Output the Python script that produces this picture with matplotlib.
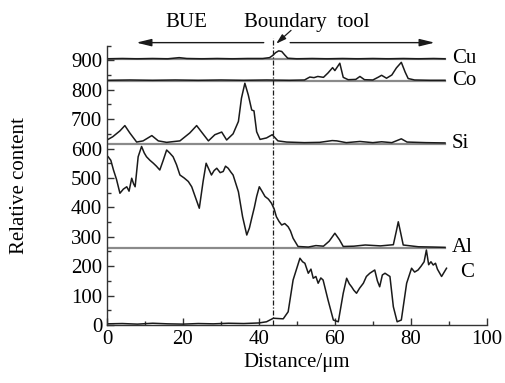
import matplotlib
matplotlib.use("Agg")
import matplotlib.pyplot as plt
from matplotlib.ticker import MultipleLocator

plt.rcParams['font.family'] = ['Liberation Serif', 'DejaVu Serif']

# ---- data ----
baselines = {"Cu": 905, "Co": 831, "Si": 617, "Al": 262}

cu_x = [0, 4, 8, 12, 16, 19, 21, 25, 29, 33, 37, 41, 42.8, 43.6, 44.4, 45.2, 46.0, 46.8, 47.6, 50, 54, 58, 62, 66, 70, 74, 78, 82, 86, 89]
cu_y = [905, 906, 905, 906, 905, 909, 906, 905, 906, 905, 906, 906, 909, 916, 926, 932, 930, 918, 907, 905, 906, 905, 906, 905, 906, 905, 906, 905, 906, 905]

co_x = [0, 6, 12, 18, 24, 30, 36, 42, 48, 52, 53.4, 54.5, 55.5, 57, 58.2, 59.4, 60.0, 61.3, 62.2, 63.5, 65.5, 66.6, 67.8, 70, 71.5, 72.3, 73.6, 75.0, 76.2, 77.5, 78.5, 79.3, 81, 85, 89]
co_y = [832, 833, 832, 833, 832, 833, 832, 833, 832, 833, 843, 841, 845, 842, 857, 875, 865, 890, 842, 834, 835, 845, 834, 833, 843, 849, 839, 850, 874, 893, 860, 838, 833, 832, 832]

si_x = [0, 1.5, 3.4, 4.7, 6.0, 7.8, 9.5, 11.8, 13.5, 15.7, 19.2, 21.8, 23.6, 24.9, 26.7, 28.4, 30.2, 31.5, 33.2, 34.6, 35.4, 36.3, 37.2, 38.1, 38.7, 39.4, 40.3, 42.0, 43.5, 45.0, 47.3, 52, 56, 59.3, 60.5, 63, 66.6, 70, 72.3, 75, 77.5, 79, 84, 89]
si_y = [629, 640, 660, 678, 653, 622, 626, 644, 626, 621, 626, 653, 678, 656, 626, 647, 656, 629, 650, 692, 771, 822, 782, 731, 728, 657, 631, 636, 647, 626, 622, 620, 621, 627, 626, 620, 624, 620, 623, 620, 633, 622, 620, 619]

al_x = [0.3, 1.0, 1.7, 2.5, 3.4, 4.3, 5.2, 5.8, 6.5, 7.0, 7.4, 8.2, 9.1, 9.8, 10.4, 11.3, 12.2, 13.0, 13.9, 14.8, 15.7, 16.5, 17.4, 18.3, 19.2, 20.3, 21.4, 22.3, 23.2, 24.3, 25.3, 26.1, 26.8, 27.5, 28.2, 28.9, 29.8, 30.6, 31.2, 31.9, 32.6, 33.2, 34.6, 35.7, 36.8, 37.5, 38.1, 38.8, 39.4, 40.1, 40.8, 41.6, 42.5, 43.3, 44.0, 44.6, 45.3, 46.0, 46.8, 47.7, 48.3, 49.0, 50.3, 53, 55, 57, 58.5, 60.0, 61.2, 62.2, 65, 68, 72, 75.4, 76.2, 76.7, 77.3, 78.0, 82, 86, 89]
al_y = [572, 560, 527, 495, 448, 462, 470, 455, 499, 480, 470, 572, 607, 585, 572, 560, 550, 540, 527, 560, 595, 585, 572, 545, 510, 500, 488, 470, 437, 397, 488, 550, 530, 510, 525, 533, 518, 522, 540, 533, 520, 510, 453, 368, 306, 330, 363, 400, 437, 470, 455, 437, 428, 414, 395, 368, 352, 340, 345, 334, 320, 295, 267, 265, 270, 268, 285, 312, 290, 267, 268, 272, 269, 273, 320, 351, 315, 272, 266, 265, 264]

c_x = [0, 4, 8, 12, 16, 20, 24, 28, 32, 36, 40, 42.0, 43.8, 46.4, 47.7, 49.0, 50.8, 51.5, 52.1, 53.0, 53.7, 54.3, 55.0, 55.6, 56.3, 56.9, 58.2, 59.6, 60.9, 62.2, 63.1, 63.8, 64.4, 65.0, 65.7, 66.5, 67.5, 68.3, 69.2, 70.5, 71.2, 71.8, 72.5, 73.2, 74.5, 75.4, 76.4, 77.5, 78.9, 80.2, 81.0, 81.9, 82.7, 83.5, 84.1, 84.7, 85.3, 85.9, 86.5, 87.0, 88.1, 89.4]
c_y = [4, 5, 3, 6, 4, 3, 5, 4, 6, 5, 7, 11, 23, 21, 45, 153, 227, 215, 210, 176, 190, 159, 165, 142, 160, 153, 85, 17, 11, 108, 159, 140, 130, 118, 108, 125, 142, 165, 176, 187, 150, 130, 170, 176, 165, 62, 11, 17, 142, 193, 180, 187, 200, 215, 255, 205, 215, 204, 210, 190, 165, 193]

element_labels = ["Cu", "Co", "Si", "Al", "C"]
label_y = [905, 831, 617, 262, 180]
y_ticks = [0, 100, 200, 300, 400, 500, 600, 700, 800, 900]

boundary_x = 43.8

# ---- figure ----
fig = plt.figure(figsize=(5.06, 3.83), dpi=100)
ax = fig.add_axes([0.2115, 0.1514, 0.7505, 0.7296])

for name, base in baselines.items():
    ax.plot([0, 89], [base, base], color="#8a8a8a", lw=1.6, zorder=1)

for xs, ys in [(cu_x, cu_y), (co_x, co_y), (si_x, si_y), (al_x, al_y), (c_x, c_y)]:
    ax.plot(xs, ys, color="#1a1a1a", lw=1.1, zorder=2)

ax.plot([boundary_x, boundary_x], [0, 975], color="#1a1a1a", lw=0.9,
        linestyle=(0, (4, 1.5, 1, 1.5)), clip_on=False, zorder=3)

for lab, yy in zip(element_labels, label_y):
    xx = 93 if lab == "C" else 90.8
    ax.text(xx, yy, lab, fontsize=15, va="center", ha="left")

ax.set_xlim(0, 100)
ax.set_ylim(0, 950)
ax.xaxis.set_major_locator(MultipleLocator(20))
ax.xaxis.set_minor_locator(MultipleLocator(10))
ax.set_yticks(y_ticks)
ax.set_yticklabels([str(v) for v in y_ticks])
ax.yaxis.set_minor_locator(MultipleLocator(50))
ax.tick_params(which="both", direction="in", labelsize=15, width=1.0, color="#333333")
ax.tick_params(which="major", length=5)
ax.tick_params(which="minor", length=3)
for s in ["top", "right"]:
    ax.spines[s].set_visible(False)
for s in ["left", "bottom"]:
    ax.spines[s].set_linewidth(1.0)
    ax.spines[s].set_color("#333333")

ax.set_xlabel("Distance/\u03bcm", fontsize=15, labelpad=3)
ax.set_ylabel("Relative content", fontsize=15, labelpad=30)

# top arrows and annotations
ax.annotate("", xy=(7, 960), xytext=(42, 960), annotation_clip=False,
            arrowprops=dict(arrowstyle="-|>,head_length=0.9,head_width=0.22", color="#1a1a1a", lw=1.0))
ax.annotate("", xy=(87, 960), xytext=(47.5, 960), annotation_clip=False,
            arrowprops=dict(arrowstyle="-|>,head_length=0.9,head_width=0.22", color="#1a1a1a", lw=1.0))
ax.text(21, 1030, "BUE", fontsize=15, ha="center", va="center", clip_on=False)
ax.text(52.6, 1030, "Boundary  tool", fontsize=15, ha="center", va="center", clip_on=False)
ax.annotate("", xy=(44.0, 950), xytext=(49, 1008), annotation_clip=False,
            arrowprops=dict(arrowstyle="-|>,head_length=0.6,head_width=0.18", color="#1a1a1a", lw=0.9))

fig.savefig("out.png", dpi=100)
